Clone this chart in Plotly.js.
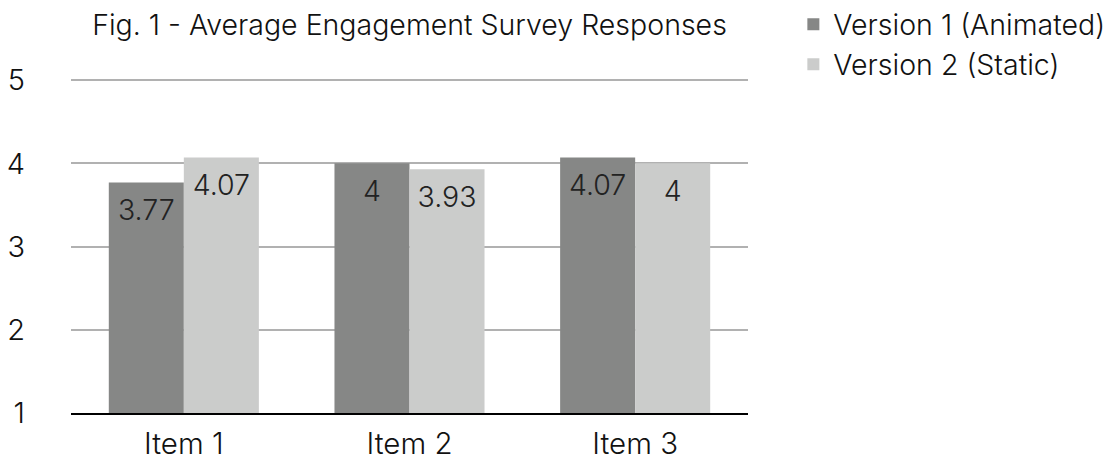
<!DOCTYPE html>
<html>
<head>
<meta charset="utf-8">
<script src="https://cdn.plot.ly/plotly-3.0.1.min.js"></script>
<style>html,body{margin:0;padding:0;background:#fff;}#chart{width:1112px;height:462px;}</style>
</head>
<body>
<div id="chart"></div>
<script>
const categories = ["Item 1", "Item 2", "Item 3"];
const seriesNames = ["Version 1 (Animated)", "Version 2 (Static)"];
const version1 = [3.77, 4, 4.07];
const version2 = [4.07, 3.93, 4];
const yTickValues = [1, 2, 3, 4, 5];
const yTickLabels = ["1", "2", "3", "4", "5"];

const FONT = "Inter, Liberation Sans, Arial, sans-serif";
const colors = ["#868786", "#cbcccb"];
const allSeries = [version1, version2];

const barTraces = allSeries.map((vals, i) => ({
  type: "bar",
  name: seriesNames[i],
  legendgroup: "g" + (i + 1),
  x: categories,
  y: vals,
  offsetgroup: String(i + 1),
  marker: {color: colors[i], line: {width: 0}},
  hoverinfo: "x+y+name"
}));

const labelTraces = allSeries.map((vals, i) => ({
  type: "scatter",
  mode: "markers+text",
  name: seriesNames[i] + " labels",
  showlegend: false,
  x: categories,
  y: vals,
  offsetgroup: String(i + 1),
  marker: {size: 24, opacity: 0},
  text: vals.map(v => String(v)),
  textposition: "bottom center",
  textfont: {family: FONT, size: 28.5, color: "#222222", weight: 300},
  cliponaxis: false,
  hoverinfo: "skip"
}));

const layout = {
  width: 1112,
  height: 462,
  paper_bgcolor: "#ffffff",
  plot_bgcolor: "#ffffff",
  margin: {l: 71, r: 364, t: 76, b: 49, autoexpand: false},
  font: {family: FONT, color: "#111111", weight: 300},
  title: {
    text: "Fig. 1 - Average Engagement Survey Responses",
    font: {family: FONT, size: 28.5, color: "#111111", weight: 300},
    x: 0.5, xref: "paper", xanchor: "center",
    y: 1 - 25/462, yref: "container", yanchor: "middle"
  },
  barmode: "group",
  bargap: 0.335,
  bargroupgap: 0,
  scattermode: "group",
  scattergap: 0.335,
  showlegend: true,
  legend: {
    x: 1.067, xanchor: "left", xref: "paper",
    y: 1.228, yanchor: "top",
    font: {family: FONT, size: 28.5, color: "#111111", weight: 300},
    bgcolor: "rgba(0,0,0,0)",
    itemwidth: 30,
    tracegroupgap: 4,
    traceorder: "normal"
  },
  xaxis: {
    type: "category",
    showgrid: false,
    showline: true, linecolor: "#000000", linewidth: 2,
    ticks: "",
    tickfont: {family: FONT, size: 29.5, color: "#111111", weight: 300},
    ticklabelstandoff: 4,
    zeroline: false
  },
  yaxis: {
    range: [1, 5.05],
    tickmode: "array",
    tickvals: yTickValues,
    ticktext: yTickLabels,
    showgrid: true, gridcolor: "#b1b1b1", gridwidth: 2,
    zeroline: false,
    showline: false,
    ticks: "",
    tickfont: {family: FONT, size: 29, color: "#111111", weight: 300},
    ticklabelstandoff: 45
  }
};

Plotly.newPlot("chart", barTraces.concat(labelTraces), layout, {displayModeBar: false, staticPlot: true});
</script>
</body>
</html>
